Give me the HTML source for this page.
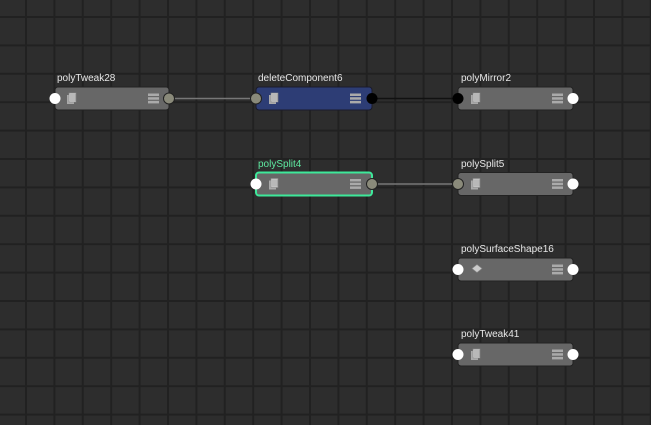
<!DOCTYPE html>
<html><head><style>
html,body{margin:0;padding:0;background:#2d2d2d;}
svg{display:block}
text{font-family:"Liberation Sans",sans-serif;font-size:10px;fill:#e6e6e6}
</style></head><body>
<svg width="651" height="425" xmlns="http://www.w3.org/2000/svg">
<defs>
<pattern id="g" x="25" y="16" width="28.4" height="28.4" patternUnits="userSpaceOnUse">
<rect x="0" y="0" width="28.4" height="2" fill="#212121"/><rect x="0" y="0" width="2" height="28.4" fill="#212121"/>
</pattern>
<g id="ico"><rect x="-5" y="-4" width="7" height="9" fill="#aaa"/><rect x="-3" y="-6" width="7" height="9" fill="#ccc" stroke="#888" stroke-width="0.6"/><path d="M-1 -5v7M1 -5v7M3 -5v7" stroke="#888" stroke-width="0.6"/></g>
<g id="menu"><rect x="-6" y="-5" width="11" height="2.5" fill="#aaa"/><rect x="-6" y="-1.3" width="11" height="2.5" fill="#aaa"/><rect x="-6" y="2.4" width="11" height="2.5" fill="#aaa"/></g>
</defs>
<rect width="651" height="425" fill="#2d2d2d"/>
<rect width="651" height="425" fill="url(#g)"/>
<line x1="169" y1="98.5" x2="256" y2="98.5" stroke="#777" stroke-width="1.5"/>
<line x1="372" y1="98.5" x2="458" y2="98.5" stroke="#111" stroke-width="1.5"/>
<line x1="372" y1="184" x2="458" y2="184" stroke="#777" stroke-width="1.5"/>

<text x="57" y="81">polyTweak28</text>
<rect x="55" y="87" width="114" height="23" rx="3" fill="#676767" stroke="#222"/>
<use href="#ico" x="72" y="99"/><use href="#menu" x="154" y="98.5"/>
<circle cx="55" cy="98.5" r="5.5" fill="#fff"/><circle cx="169" cy="98.5" r="5.5" fill="#8a8a7a" stroke="#222"/>

<text x="258" y="81">deleteComponent6</text>
<rect x="256" y="87" width="116" height="23" rx="3" fill="#2d3d75" stroke="#1a1a2a"/>
<use href="#ico" x="274" y="99"/><use href="#menu" x="356" y="98.5"/>
<circle cx="256" cy="98.5" r="5.5" fill="#8a8a7a" stroke="#222"/><circle cx="372" cy="98.5" r="5.5" fill="#000"/>

<text x="461" y="81">polyMirror2</text>
<rect x="458" y="87" width="115" height="23" rx="3" fill="#676767" stroke="#222"/>
<use href="#ico" x="476" y="99"/><use href="#menu" x="558" y="98.5"/>
<circle cx="458" cy="98.5" r="5.5" fill="#000"/><circle cx="573" cy="98.5" r="5.5" fill="#fff"/>

<text x="258" y="167" style="fill:#5ee8a0">polySplit4</text>
<rect x="256" y="172.5" width="116" height="23" rx="3" fill="#676767" stroke="#3ee89a" stroke-width="2"/>
<use href="#ico" x="274" y="184.5"/><use href="#menu" x="356" y="184"/>
<circle cx="256" cy="184" r="5.5" fill="#fff"/><circle cx="372" cy="184" r="5.5" fill="#8a8a7a" stroke="#222"/>

<text x="461" y="167">polySplit5</text>
<rect x="458" y="172.5" width="115" height="23" rx="3" fill="#676767" stroke="#222"/>
<use href="#ico" x="476" y="184.5"/><use href="#menu" x="558" y="184"/>
<circle cx="458" cy="184" r="5.5" fill="#8a8a7a" stroke="#222"/><circle cx="573" cy="184" r="5.5" fill="#fff"/>

<text x="461" y="252">polySurfaceShape16</text>
<rect x="458" y="258" width="115" height="23" rx="3" fill="#676767" stroke="#222"/>
<path d="M477 264.5l5 4-5 4-5-4z" fill="#ccc" stroke="#888" stroke-width="0.6"/><use href="#menu" x="558" y="269.5"/>
<circle cx="458" cy="269.5" r="5.5" fill="#fff"/><circle cx="573" cy="269.5" r="5.5" fill="#fff"/>

<text x="461" y="337">polyTweak41</text>
<rect x="458" y="343" width="115" height="23" rx="3" fill="#676767" stroke="#222"/>
<use href="#ico" x="476" y="355"/><use href="#menu" x="558" y="354.5"/>
<circle cx="458" cy="354.5" r="5.5" fill="#fff"/><circle cx="573" cy="354.5" r="5.5" fill="#fff"/>
</svg>
</body></html>
